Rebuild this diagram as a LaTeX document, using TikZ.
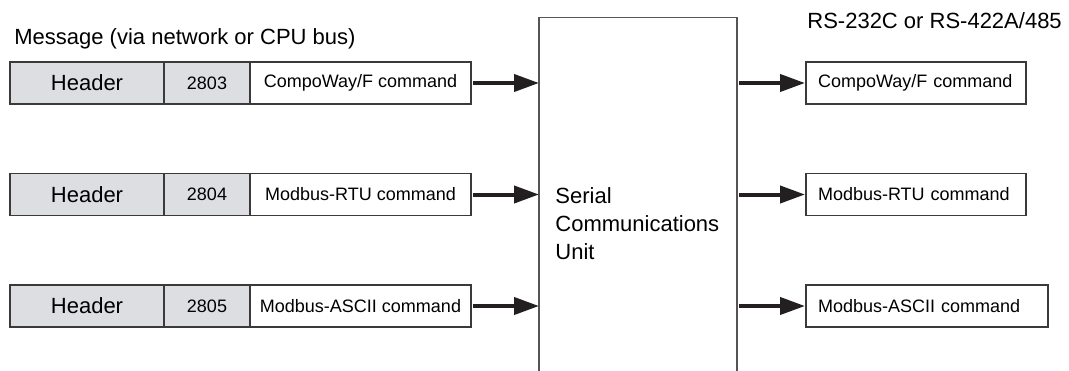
\documentclass[tikz,border=0pt]{standalone}
\usepackage{fontspec}
\setmainfont{Liberation Sans}
\usepackage{xcolor}
\usepackage{tikz}
\usetikzlibrary{positioning,arrows.meta}
\definecolor{SCUFill}{HTML}{DCDEE2}
\definecolor{SCULine}{HTML}{3A3A3A}
\definecolor{SCUFrame}{HTML}{555555}
\definecolor{SCUArrow}{HTML}{231F20}
\newcommand{\bigtxt}{\fontsize{11}{14}\selectfont}
\newcommand{\smalltxt}{\fontsize{9}{11}\selectfont}

\begin{document}
\begin{tikzpicture}[x=0.5pt,y=-0.5pt,>={Triangle[length=12.5pt,width=8.5pt]},
 cell/.style={draw=SCULine,line width=0.6pt,minimum height=21pt,inner sep=0pt,outer sep=0pt},
 hdr/.style={cell,fill=SCUFill,minimum width=77pt,anchor=west,font=\bigtxt},
 num/.style={cell,fill=SCUFill,minimum width=43pt,font=\smalltxt},
 cmd/.style={cell,fill=white,minimum width=110.5pt,font=\smalltxt},
 outbox/.style={cell,fill=white,anchor=west,align=left,inner xsep=6pt,font=\smalltxt},
 lbl/.style={inner sep=0pt,font=\bigtxt},
 flow/.style={->,draw=SCUArrow,fill=SCUArrow,line width=2pt}]
\useasboundingbox (0,0) rectangle (1069,370);
% titles
\node[lbl,anchor=base west] (msg) at (14,44.8) {Message (via network or CPU bus)};
\node[lbl,anchor=base west] (rs) at (807,28) {RS-232C or RS-422A/485};
% incoming messages
\node[hdr] (hdr1) at (10,83) {Header};
\node[num,right=0pt of hdr1] (num1) {2803};
\node[cmd,right=0pt of num1] (cmd1) {CompoWay/F command};
\node[hdr] (hdr2) at (10,194.5) {Header};
\node[num,right=0pt of hdr2] (num2) {2804};
\node[cmd,right=0pt of num2] (cmd2) {Modbus-RTU command};
\node[hdr] (hdr3) at (10,306) {Header};
\node[num,right=0pt of hdr3] (num3) {2805};
\node[cmd,right=0pt of num3] (cmd3) {Modbus-ASCII command};
% serial communications unit (open at the bottom)
\node[minimum width=99pt,minimum height=177pt,inner sep=0pt,outer sep=0pt,anchor=north west] (scu) at (539,17.3) {};
\draw[SCUFrame,line width=0.7pt] (scu.south west) |- (scu.north east) -- (scu.south east);
\node[lbl,align=left,anchor=west] (scutxt) at (555,224) {Serial\\Communications\\Unit};
% outgoing commands
\node[outbox,text width=98pt] (out1) at (806,83) {CompoWay/F command};
\node[outbox,text width=98pt] (out2) at (806,194.5) {Modbus-RTU command};
\node[outbox,text width=109pt] (out3) at (806,306) {Modbus-ASCII command};
% arrows
\draw[flow,shorten <=1pt] (cmd1.east) -- (cmd1.east -| scu.west);
\draw[flow,shorten <=1pt] (cmd2.east) -- (cmd2.east -| scu.west);
\draw[flow,shorten <=1pt] (cmd3.east) -- (cmd3.east -| scu.west);
\draw[flow,shorten <=1pt,shorten >=0.5pt] (out1.west -| scu.east) -- (out1.west);
\draw[flow,shorten <=1pt,shorten >=0.5pt] (out2.west -| scu.east) -- (out2.west);
\draw[flow,shorten <=1pt,shorten >=0.5pt] (out3.west -| scu.east) -- (out3.west);
\end{tikzpicture}
\end{document}
